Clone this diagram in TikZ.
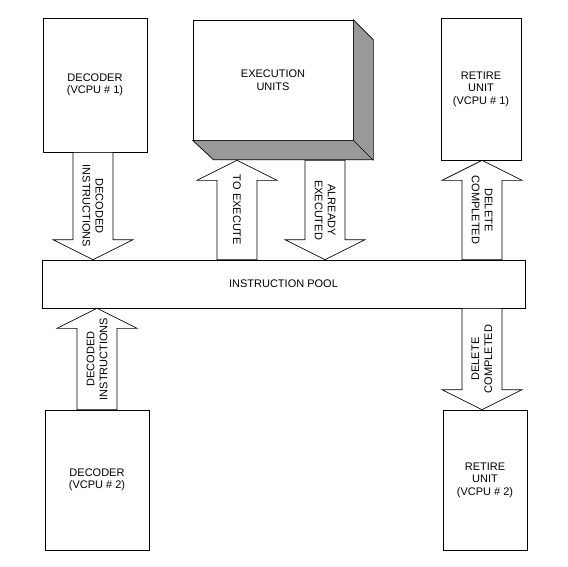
\documentclass[tikz,border=0pt]{standalone}
\usepackage{fontspec}
\setmainfont{Liberation Sans}
\usetikzlibrary{calc}
\definecolor{sidegray}{RGB}{153,153,153}
\begin{document}
\begin{tikzpicture}[x=1pt,y=-1pt,
    unit/.style={draw, line width=0.7pt, fill=white, inner sep=0pt, align=center,
        font=\fontsize{11}{12.5}\selectfont},
    fatarrow/.style={draw, line width=0.7pt, fill=white, line join=miter},
    arrowtext/.style={inner sep=0pt, align=center, font=\fontsize{11}{13}\selectfont}]
    \useasboundingbox (0,0) rectangle (568,566);

    % Units
    \node[unit, minimum width=104pt, minimum height=134pt] (dec1) at (95,85) {DECODER\\(VCPU \# 1)};
    \node[unit, minimum width=160pt, minimum height=120pt] (exec) at (273,80) {EXECUTION\\UNITS};
    \node[unit, minimum width=80pt, minimum height=142pt] (ret1) at (481,89) {RETIRE\\UNIT\\(VCPU \# 1)};
    \node[unit, minimum width=483pt, minimum height=48pt] (pool) at (283.5,284) {INSTRUCTION POOL};
    \node[unit, minimum width=104pt, minimum height=140pt] (dec2) at (97,480) {DECODER\\(VCPU \# 2)};
    \node[unit, minimum width=84pt, minimum height=140pt] (ret2) at (485,480) {RETIRE\\UNIT\\(VCPU \# 2)};

    % 3D sides of the execution units
    \draw[line width=0.7pt, fill=sidegray] (exec.north east) -- ++(20,20) -- ++(0,120) -- ++(-160,0)
        -- (exec.south west) -- (exec.south east) -- cycle;
    \draw[line width=0.7pt] (exec.south east) -- ++(20,20);
    \coordinate (execbase) at ([yshift=-20pt]exec.south);

    % Arrow ends
    \coordinate (a1s) at (93,0 |- dec1.south);
    \coordinate (a1t) at (93,0 |- pool.north);
    \coordinate (a2s) at (237,0 |- pool.north);
    \coordinate (a2t) at (237,0 |- execbase);
    \coordinate (a3s) at (325,0 |- execbase);
    \coordinate (a3t) at (325,0 |- pool.north);
    \coordinate (a4s) at (482,0 |- pool.north);
    \coordinate (a4t) at (482,0 |- ret1.south);
    \coordinate (a5s) at (482,0 |- pool.south);
    \coordinate (a5t) at (482,0 |- ret2.north);
    \coordinate (a6s) at (97,0 |- dec2.north);
    \coordinate (a6t) at (97,0 |- pool.south);

    % Block arrows with their labels
    \foreach \s/\t/\r/\txt in {a1s/a1t/-90/{DECODED\\INSTRUCTIONS},
                               a2s/a2t/-90/{TO EXECUTE},
                               a3s/a3t/-90/{ALREADY\\EXECUTED},
                               a4s/a4t/-90/{DELETE\\COMPLETED},
                               a5s/a5t/90/{DELETE\\COMPLETED},
                               a6s/a6t/90/{DECODED\\INSTRUCTIONS}} {
        \draw[fatarrow] let \p1=(\s), \p2=(\t), \n1={(\y2>\y1)*2-1} in
            (\x1-20pt,\y1) -- (\x1+20pt,\y1) -- (\x1+20pt,{\y2-\n1*20pt})
            -- (\x1+40pt,{\y2-\n1*20pt}) -- (\x2,\y2) -- (\x1-40pt,{\y2-\n1*20pt})
            -- (\x1-20pt,{\y2-\n1*20pt}) -- cycle;
        \node[arrowtext, rotate=\r] (txt-\s) at ($(\s)!0.5!(\t)$) {\txt};
    }
\end{tikzpicture}
\end{document}
